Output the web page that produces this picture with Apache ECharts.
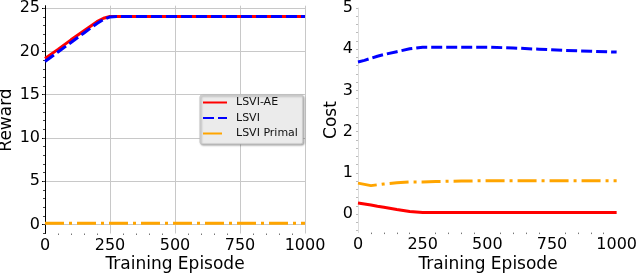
<!DOCTYPE html>
<html>
<head>
<meta charset="utf-8">
<script src="https://cdn.jsdelivr.net/npm/echarts@6/dist/echarts.min.js"></script>
<style>
html,body{margin:0;padding:0;background:#fff;}
#c{width:640px;height:276px;}
</style>
</head>
<body>
<div id="c"></div>
<script>
// ---- data ----
var seriesNames = ['LSVI-AE', 'LSVI', 'LSVI Primal'];
var xTicks = [0, 250, 500, 750, 1000];
var rewardTicks = [0, 5, 10, 15, 20, 25];
var costTicks = [0, 1, 2, 3, 4, 5];

var episodesReward = [0, 50, 100, 150, 200, 225, 250, 275, 300, 400, 500, 600, 700, 800, 900, 1000];
var rewardAE     = [19.2, 20.25, 21.35, 22.4, 23.45, 23.85, 24.05, 24.05, 24.05, 24.05, 24.05, 24.05, 24.05, 24.05, 24.05, 24.05];
var rewardLSVI   = [18.85, 19.95, 21.05, 22.15, 23.25, 23.7, 24.0, 24.05, 24.05, 24.05, 24.05, 24.05, 24.05, 24.05, 24.05, 24.05];
var rewardPrimal = [0.15, 0.15, 0.15, 0.15, 0.15, 0.15, 0.15, 0.15, 0.15, 0.15, 0.15, 0.15, 0.15, 0.15, 0.15, 0.15];

var episodesCost = [0, 25, 50, 75, 100, 150, 200, 250, 300, 400, 500, 600, 700, 800, 900, 1000];
var costAE     = [0.27, 0.245, 0.22, 0.19, 0.165, 0.11, 0.06, 0.04, 0.04, 0.04, 0.04, 0.04, 0.04, 0.04, 0.04, 0.04];
var costLSVI   = [3.69, 3.73, 3.78, 3.83, 3.87, 3.94, 4.01, 4.05, 4.05, 4.05, 4.05, 4.03, 4.0, 3.97, 3.95, 3.93];
var costPrimal = [0.75, 0.72, 0.69, 0.71, 0.73, 0.76, 0.78, 0.78, 0.79, 0.80, 0.81, 0.81, 0.81, 0.81, 0.81, 0.81];

function zip(xs, ys){ return xs.map(function(x,i){ return [x, ys[i]]; }); }
function range(a, b, s){ var r=[]; for (var v=a; v<=b+1e-9; v+=s) r.push(Math.round(v*1000)/1000); return r; }
function plain(v){ return String(v); }

var FONT = 'DejaVu Sans';
var colors = {ae:'#ff0000', lsvi:'#0000ff', primal:'#ffa500'};

var chart = echarts.init(document.getElementById('c'), null, {renderer:'canvas'});

function xAxisCfg(gi){
  return {
    type:'value', gridIndex:gi, min:0, max:1000, interval:250, position:'bottom',
    axisLine:{show:false, onZero:false},
    axisTick:{show:false},
    minorTick:{show:true, splitNumber:5, length:1.5, lineStyle:{color:'#777', width:1}},
    axisLabel:{customValues:xTicks, formatter:plain, fontFamily:FONT, fontSize:16, color:'#000', margin:4},
    splitLine:{show: gi===0, lineStyle:{color:'#c8c8c8', width:1}}
  };
}

var option = {
  animation:false,
  grid:[
    {left:45, top:5.7, width:260, height:227.8},
    {left:358, top:7, width:260, height:225.6}
  ],
  xAxis:[xAxisCfg(0), xAxisCfg(1)],
  yAxis:[
    { type:'value', gridIndex:0, position:'left', min:-1.05, max:25.3,
      axisLine:{show:true, onZero:false, lineStyle:{color:'#000', width:1}},
      axisTick:{show:true, customValues:rewardTicks, length:3, lineStyle:{color:'#000'}},
      axisLabel:{customValues:rewardTicks, formatter:plain, fontFamily:FONT, fontSize:16, color:'#000', margin:5},
      splitLine:{show:true, lineStyle:{color:'#c8c8c8', width:1}}
    },
    { type:'value', gridIndex:0, position:'left', offset:0, min:-1.05, max:25.3,
      axisLine:{show:false, onZero:false},
      axisTick:{show:true, customValues:range(-1,25,1), length:2, lineStyle:{color:'#444'}},
      axisLabel:{show:false}, splitLine:{show:false}
    },
    { type:'value', gridIndex:1, position:'left', min:-0.45, max:5,
      axisLine:{show:true, onZero:false, lineStyle:{color:'#dcdcdc', width:1}},
      axisTick:{show:true, customValues:costTicks, length:2, lineStyle:{color:'#bbb'}},
      axisLabel:{customValues:costTicks, formatter:plain, fontFamily:FONT, fontSize:16, color:'#000', margin:5},
      splitLine:{show:false}
    },
    { type:'value', gridIndex:1, position:'left', offset:0, min:-0.45, max:5,
      axisLine:{show:false, onZero:false},
      axisTick:{show:true, customValues:range(-0.4,5,0.2), length:2, lineStyle:{color:'#bbb'}},
      axisLabel:{show:false}, splitLine:{show:false}
    }
  ],
  legend:{
    orient:'vertical', left:200, top:95,
    data:seriesNames,
    itemWidth:24, itemHeight:12, itemGap:4.5,
    padding:[2,5,5,2],
    itemStyle:{opacity:0},
    backgroundColor:'#ebebeb', borderColor:'#c4c4c4', borderWidth:1, borderRadius:2,
    shadowColor:'rgba(0,0,0,0.35)', shadowBlur:2, shadowOffsetX:1, shadowOffsetY:1,
    textStyle:{fontFamily:FONT, fontSize:11, color:'#111', padding:[0,0,0,4]}
  },
  graphic:[
    {type:'text', x:7, y:120, rotation:Math.PI/2,
      style:{text:'Reward', font:'17px "DejaVu Sans"', fill:'#000', align:'center', verticalAlign:'middle'}},
    {type:'text', x:175, y:265,
      style:{text:'Training Episode', font:'17px "DejaVu Sans"', fill:'#000', align:'center', verticalAlign:'middle'}},
    {type:'text', x:332, y:120, rotation:Math.PI/2,
      style:{text:'Cost', font:'17px "DejaVu Sans"', fill:'#000', align:'center', verticalAlign:'middle'}},
    {type:'text', x:488, y:265,
      style:{text:'Training Episode', font:'17px "DejaVu Sans"', fill:'#000', align:'center', verticalAlign:'middle'}}
  ],
  series:[
    {name:'LSVI-AE', type:'line', xAxisIndex:0, yAxisIndex:0, data:zip(episodesReward, rewardAE),
      symbol:'none', lineStyle:{color:colors.ae, width:3}, itemStyle:{color:colors.ae}},
    {name:'LSVI', type:'line', xAxisIndex:0, yAxisIndex:0, data:zip(episodesReward, rewardLSVI),
      symbol:'none', lineStyle:{color:colors.lsvi, width:3, type:[11,4]}, itemStyle:{color:colors.lsvi}},
    {name:'LSVI Primal', type:'line', xAxisIndex:0, yAxisIndex:0, data:zip(episodesReward, rewardPrimal),
      symbol:'none', lineStyle:{color:colors.primal, width:3, type:[19,5,3,5]}, itemStyle:{color:colors.primal}},
    {name:'LSVI-AE', type:'line', xAxisIndex:1, yAxisIndex:2, data:zip(episodesCost, costAE),
      symbol:'none', lineStyle:{color:colors.ae, width:3}, itemStyle:{color:colors.ae}},
    {name:'LSVI', type:'line', xAxisIndex:1, yAxisIndex:2, data:zip(episodesCost, costLSVI),
      symbol:'none', lineStyle:{color:colors.lsvi, width:3, type:[11,4]}, itemStyle:{color:colors.lsvi}},
    {name:'LSVI Primal', type:'line', xAxisIndex:1, yAxisIndex:2, data:zip(episodesCost, costPrimal),
      symbol:'none', lineStyle:{color:colors.primal, width:3, type:[19,5,3,5]}, itemStyle:{color:colors.primal}}
  ]
};
chart.setOption(option);
</script>
</body>
</html>
